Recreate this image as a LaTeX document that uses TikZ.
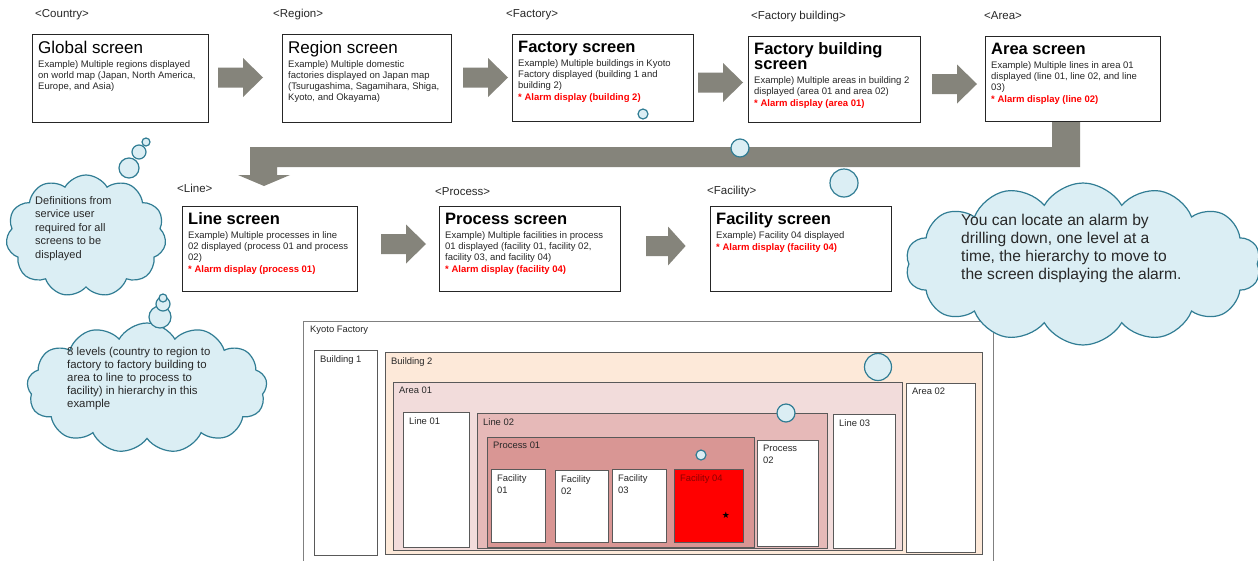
\documentclass[tikz,border=0pt]{standalone}
\usepackage{fontspec}
\setmainfont{Liberation Sans}
\newfontfamily\symfont{DejaVu Sans}
\usetikzlibrary{shapes.symbols}
\definecolor{agrey}{RGB}{133,132,123}
\definecolor{cfill}{RGB}{219,238,244}
\definecolor{cline}{RGB}{49,125,148}
\definecolor{bpeach}{RGB}{253,233,217}
\definecolor{apink}{RGB}{242,220,219}
\definecolor{lpink}{RGB}{230,185,184}
\definecolor{ppink}{RGB}{217,150,148}
\definecolor{tgrey}{RGB}{40,40,40}
\definecolor{dred}{RGB}{140,0,0}
\newcommand\bodyf{\fontsize{9.5}{11}\selectfont}
\newcommand\titf{\fontsize{17}{17}\selectfont\color{black}}
\newcommand\titbf{\fontsize{16.5}{16}\selectfont\bfseries\color{black}}
\newcommand\alarmtxt[1]{{\color{red}\bfseries #1}}
\tikzset{
 scr/.style={draw=black!85, line width=1pt, fill=white, anchor=north west, inner sep=0, outer sep=0},
 scrtxt/.style={anchor=north west, inner sep=0, align=left, font=\bodyf, text=tgrey},
 lvl/.style={anchor=west, inner sep=0, font=\fontsize{11.5}{13}\selectfont, text=tgrey},
 kbox/.style={draw=black!65, line width=0.9pt, anchor=north west, inner sep=0, outer sep=0},
 ktxt/.style={anchor=north west, inner sep=0, align=left, font=\fontsize{9.4}{12}\selectfont, text=tgrey},
 cloudy/.style={cloud, cloud ignores aspect, cloud puff arc=120, draw=cline, fill=cfill, line width=1.2pt, inner sep=0},
 bub/.style={circle, draw=cline, fill=cfill, line width=1.2pt, inner sep=0},
 ctxt/.style={anchor=north west, inner sep=0, align=left, text=tgrey},
 rarr/.pic={\fill[agrey] (0,-10) -- (25,-10) -- (25,-19.5) -- (45,0) -- (25,19.5) -- (25,10) -- (0,10) -- cycle;}
}
\newcommand\scrbox[6]{%
 \node[scr, minimum width={#4-#2}, minimum height={#5-#3}] (#1) at (#2,#3) {};
 \node[scrtxt] (#1t) at ([shift={(6,6.5)}]#1.north west) {#6};}
\newcommand\kbx[7]{%
 \node[kbox, fill=#6, minimum width={#4-#2}, minimum height={#5-#3}] (#1) at (#2,#3) {};
 \node[ktxt] (#1t) at ([shift={(6,5)}]#1.north west) {#7};}
\begin{document}
\begin{tikzpicture}[x=1pt,y=-1pt]
\useasboundingbox[fill=white] (0,0) rectangle (1258,560);

% level labels
\node[lvl] (l1) at (35,15) {<Country>};
\node[lvl] (l2) at (273,15) {<Region>};
\node[lvl] (l3) at (506,15) {<Factory>};
\node[lvl] (l4) at (751,17) {<Factory building>};
\node[lvl] (l5) at (984,16) {<Area>};
\node[lvl] (l6) at (177,188) {<Line>};
\node[lvl] (l7) at (435,192) {<Process>};
\node[lvl] (l8) at (707,192) {<Facility>};

% L-shaped arrow
\fill[agrey] (1080,121) -- (1080,167) -- (277,167) -- (277,175) -- (290,175) -- (264,186) -- (238,175) -- (250,175) -- (250,147) -- (1052,147) -- (1052,121) -- cycle;

% screens
\scrbox{gl}{32}{34}{208}{122}{{\titf Global screen}\\[3pt]
Example)  Multiple  regions displayed\\ on world map (Japan, North America,\\ Europe, and Asia)}
\scrbox{rg}{282}{34}{451}{122}{{\titf Region screen}\\[3pt]
Example)  Multiple  domestic\\ factories displayed  on Japan map\\ (Tsurugashima, Sagamihara, Shiga,\\ Kyoto, and  Okayama)}
\scrbox{fa}{512}{34}{693}{121}{{\titbf Factory screen}\\[3pt]
Example)  Multiple  buildings  in Kyoto\\ Factory displayed  (building  1 and\\ building  2)\\[1pt] \alarmtxt{* Alarm display (building 2)}}
\scrbox{fb}{748}{36}{920}{122}{{\titbf Factory building}\\[1pt] {\titbf screen}\\[3pt]
Example)  Multiple  areas in building  2\\ displayed  (area 01 and area 02)\\[1pt] \alarmtxt{* Alarm display (area 01)}}
\scrbox{ar}{985}{36}{1160}{121}{{\titbf Area screen}\\[3pt]
Example)  Multiple  lines in area 01\\ displayed  (line 01, line 02, and line\\ 03)\\[1pt] \alarmtxt{* Alarm display (line 02)}}
\scrbox{ln}{182}{206}{357}{291}{{\titbf Line screen}\\[3pt]
Example)  Multiple  processes in line\\ 02 displayed  (process 01 and process\\ 02)\\[1pt] \alarmtxt{* Alarm display (process 01)}}
\scrbox{pr}{439}{206}{620}{291}{{\titbf Process screen}\\[3pt]
Example)  Multiple  facilities in process\\ 01 displayed  (facility 01, facility 02,\\ facility 03, and facility 04)\\[1pt] \alarmtxt{* Alarm display (facility 04)}}
\scrbox{fc}{710}{206}{891}{291}{{\titbf Facility screen}\\[3pt]
Example)  Facility 04 displayed\\[1pt] \alarmtxt{* Alarm display (facility 04)}}

% block arrows
\pic at (218,77.5) {rarr};
\pic at (463,77.5) {rarr};
\pic at (698,82.5) {rarr};
\pic at (932,84) {rarr};
\pic at (381,244) {rarr};
\pic[xscale=0.88] at (646,246) {rarr};

% Kyoto factory
\node[kbox, draw=black!50, fill=white, minimum width=690, minimum height=260] (ky) at (303,321) {};
\node[ktxt] (kyt) at ([shift={(7,5)}]ky.north west) {Kyoto Factory};
\kbx{b1}{314}{350}{377}{555}{white}{Building  1}
\kbx{b2}{385}{352}{982}{554}{bpeach}{Building  2}
\kbx{a1}{393}{382}{902}{550}{apink}{Area 01}
\kbx{a2}{906}{383}{975}{552}{white}{Area 02}
\kbx{li1}{403}{412}{469}{547}{white}{Line 01}
\kbx{li2}{477}{413}{827}{548}{lpink}{Line 02}
\kbx{li3}{833}{414}{895}{548}{white}{Line 03}
\kbx{p1}{487}{437}{754}{547}{ppink}{Process 01}
\kbx{p2}{757}{440}{818}{546}{white}{Process\\02}
\kbx{f1}{491}{469}{545}{542}{white}{Facility\\01}
\kbx{f2}{555}{470}{608}{542}{white}{Facility\\02}
\kbx{f3}{612}{469}{666}{542}{white}{Facility\\03}
\kbx{f4}{674}{469}{743}{542}{red}{{\color{dred}Facility 04}}
\node[inner sep=0, font=\symfont\fontsize{9}{9}\selectfont] (star) at (726,515) {★};

% clouds
\node[cloudy, cloud puffs=11, minimum width=160, minimum height=122] (c1) at (86,236) {};
\node[ctxt, font=\fontsize{11}{13.5}\selectfont] (c1t) at (35,196) {Definitions from\\ service user\\ required for all\\ screens to be\\ displayed};
\node[cloudy, cloud puffs=13, minimum width=240, minimum height=130] (c2) at (147,388) {};
\node[ctxt, font=\fontsize{11.4}{13}\selectfont] (c2t) at (67,347) {8 levels (country to region to\\ factory to factory building to\\ area to line to process to\\ facility) in hierarchy in this\\ example};
\node[cloudy, cloud puffs=14, minimum width=355, minimum height=162] (c3) at (1083,264) {};
\node[ctxt, font=\fontsize{15.6}{18}\selectfont] (c3t) at (961,214) {You can locate an alarm by\\ drilling down, one level at a\\ time, the hierarchy to move to\\ the screen displaying the alarm.};

% bubbles
\node[bub, minimum size=20] (c1b1) at (129,168) {};
\node[bub, minimum size=14] (c1b2) at (139,152) {};
\node[bub, minimum size=8] (c1b3) at (146,142) {};
\node[bub, minimum size=22] (c2b1) at (160,317) {};
\node[bub, minimum size=14] (c2b2) at (163,304) {};
\node[bub, minimum size=8] (c2b3) at (163,298) {};
\node[bub, minimum size=28] (c3b1) at (844,183) {};
\node[bub, minimum size=18] (c3b2) at (740,148) {};
\node[bub, minimum size=10] (c3b3) at (643,114) {};
\node[bub, minimum size=27] (c3b4) at (878,367) {};
\node[bub, minimum size=18] (c3b5) at (786,413) {};
\node[bub, minimum size=10] (c3b6) at (701,455) {};
\end{tikzpicture}
\end{document}
